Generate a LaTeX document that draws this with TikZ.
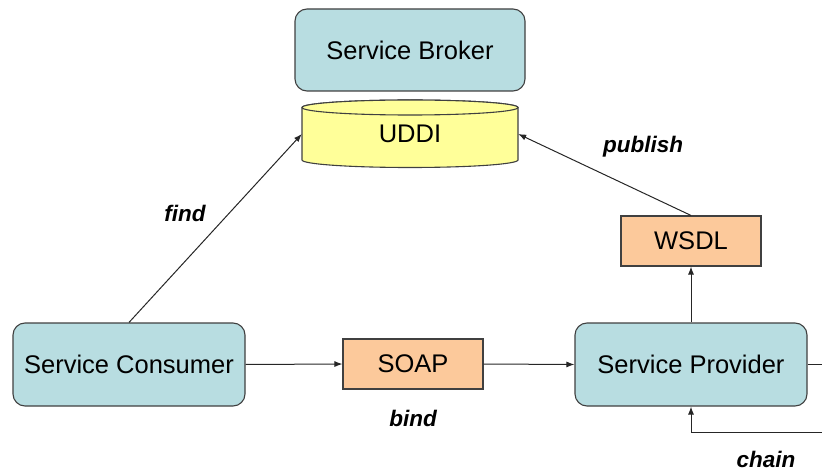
\documentclass[tikz,border=0pt]{standalone}
\usepackage{fontspec}
\setmainfont{Liberation Sans}
\usetikzlibrary{arrows.meta}
\definecolor{roleblue}{HTML}{B8DDE1}
\definecolor{fileorange}{HTML}{FCC99B}
\definecolor{regyellow}{HTML}{FFFF99}
\definecolor{edgegrey}{HTML}{404040}
\begin{document}
\begin{tikzpicture}[x=1pt,y=1pt,
  role/.style={draw=edgegrey, line width=1.1pt, fill=roleblue, rounded corners=12pt,
    minimum width=232pt, minimum height=83pt, inner sep=0pt, font=\fontsize{25.5}{28}\selectfont},
  doc/.style={draw=edgegrey, line width=1.1pt, fill=fileorange,
    minimum width=140pt, minimum height=50pt, inner sep=0pt, font=\fontsize{25.5}{28}\selectfont},
  verb/.style={font=\fontsize{22.5}{25}\selectfont\bfseries\itshape, inner sep=0pt},
  link/.style={draw=black!85, line width=1pt, -{Latex[length=8pt,width=6pt]}},
  plain/.style={draw=black!85, line width=1pt}]
\useasboundingbox (0,0) rectangle (822,472);

% service registry
\node[role, minimum width=230pt, minimum height=82pt] (broker) at (410,422) {Service Broker};

% UDDI cylinder
\draw[edgegrey, line width=1.1pt, fill=regyellow]
  (302,364.5) -- (302,312) arc[start angle=180, end angle=360, x radius=108, y radius=7.5]
  -- (518,364.5) arc[start angle=0, end angle=180, x radius=108, y radius=7.5] -- cycle;
\draw[edgegrey, line width=1.1pt, fill=regyellow] (410,364.5) ellipse[x radius=108, y radius=7.5];
\node[minimum width=216pt, minimum height=52.5pt, inner sep=0pt,
  font=\fontsize{25.5}{28}\selectfont] (uddi) at (410,338) {UDDI};

% participants
\node[role] (consumer) at (129,107.5) {Service Consumer};
\node[role] (provider) at (691,107.5) {Service Provider};
\node[doc] (soap) at (413,108) {SOAP};
\node[doc] (wsdl) at (691,231) {WSDL};

% interactions
\draw[link] (consumer.north) -- (uddi.west);
\draw[link] (wsdl.north) -- (uddi.east);
\draw[link] (provider.north) -- (wsdl.south);
\draw[link] (consumer.east) -- (soap.west);
\draw[link] (soap.east) -- (provider.west);

% chaining to further providers
\coordinate (outR) at (822,107.5);
\coordinate (inR) at (822,40);
\draw[plain] (provider.east) -- (outR);
\draw[link] (inR) -| (provider.south);

% labels
\node[verb] (findlbl) at (185,259) {find};
\node[verb] (publbl) at (643,325) {publish};
\node[verb] (bindlbl) at (413,54) {bind};
\node[verb] (chainlbl) at (766,13) {chain};
\end{tikzpicture}
\end{document}
